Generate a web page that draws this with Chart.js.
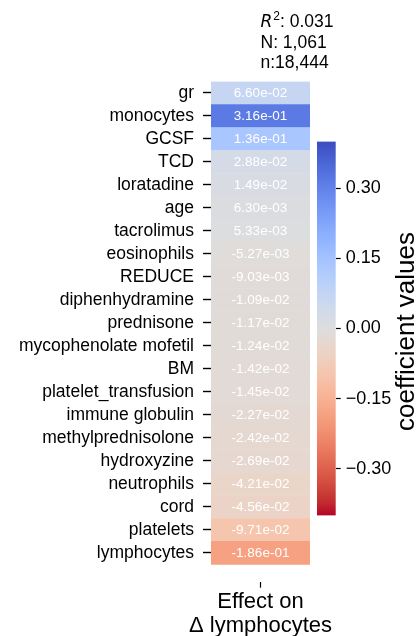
<!DOCTYPE html>
<html>
<head>
<meta charset="utf-8">
<script src="https://cdn.jsdelivr.net/npm/chart.js@4.4.0/dist/chart.umd.min.js"></script>
<style>
  html, body { margin: 0; padding: 0; background: #fff; }
  #wrap { position: relative; width: 419px; height: 636px; overflow: hidden; }
  #wrap canvas { position: absolute; top: 0; }
  #heat { left: 0; }
  #cbar { left: 300px; }
</style>
</head>
<body>
<div id="wrap">
  <canvas id="heat" width="419" height="636"></canvas>
  <canvas id="cbar" width="119" height="636"></canvas>
</div>
<script>
// rows of the heatmap, top to bottom
const rowLabels = ['gr', 'monocytes', 'GCSF', 'TCD', 'loratadine', 'age', 'tacrolimus',
  'eosinophils', 'REDUCE', 'diphenhydramine', 'prednisone', 'mycophenolate mofetil', 'BM',
  'platelet_transfusion', 'immune globulin', 'methylprednisolone', 'hydroxyzine',
  'neutrophils', 'cord', 'platelets', 'lymphocytes'];
const coefValues = [6.60e-02, 3.16e-01, 1.36e-01, 2.88e-02, 1.49e-02, 6.30e-03, 5.33e-03,
  -5.27e-03, -9.03e-03, -1.09e-02, -1.17e-02, -1.24e-02, -1.42e-02,
  -1.45e-02, -2.27e-02, -2.42e-02, -2.69e-02,
  -4.21e-02, -4.56e-02, -9.71e-02, -1.86e-01];
const columnTitle = ['Effect on', 'Δ lymphocytes'];
const statR2 = '0.031';
const statBigN = '1,061';
const statSmallN = '18,444';
const colorbarTicks = [-0.3, -0.15, 0, 0.15, 0.3];
const vmin = -0.4, vmax = 0.4;

const FONT = '"Liberation Sans", Arial, sans-serif';
Chart.defaults.font.family = FONT;
Chart.defaults.color = '#000';

// coolwarm lookup (33 samples)
const coolwarm = [
  [59,76,192],[68,90,204],[77,104,215],[87,117,225],[98,130,234],[108,142,241],
  [119,154,247],[130,165,251],[141,176,254],[152,185,255],[163,194,255],[174,201,253],
  [184,208,249],[194,213,244],[204,217,238],[213,219,230],[221,221,221],[229,216,209],
  [236,211,197],[241,204,185],[245,196,173],[247,187,160],[247,177,148],[247,166,135],
  [244,154,123],[241,141,111],[236,127,99],[229,112,88],[222,96,77],[213,80,66],
  [203,62,56],[192,40,47],[180,4,38]];

function cmap(t) {
  t = Math.min(1, Math.max(0, t)) * (coolwarm.length - 1);
  const i = Math.min(coolwarm.length - 2, Math.floor(t));
  const f = t - i;
  const a = coolwarm[i], b = coolwarm[i + 1];
  const c = a.map((v, k) => Math.round(v + (b[k] - v) * f));
  return `rgb(${c[0]},${c[1]},${c[2]})`;
}
// positive = blue, negative = red
function valueColor(v) {
  return cmap(1 - (v - vmin) / (vmax - vmin));
}

function sci(v) {
  const [m, e] = v.toExponential(2).split('e');
  const sign = e[0] === '-' ? '-' : '+';
  return m + 'e' + sign + e.replace(/[+-]/, '').padStart(2, '0');
}

const cellText = {
  id: 'cellText',
  afterDatasetsDraw(chart) {
    const ctx = chart.ctx;
    const meta = chart.getDatasetMeta(0);
    ctx.save();
    ctx.font = '13.5px ' + FONT;
    ctx.fillStyle = '#fff';
    ctx.textAlign = 'center';
    ctx.textBaseline = 'middle';
    meta.data.forEach((bar, i) => {
      const p = bar.getProps(['x', 'y', 'base'], true);
      ctx.fillText(sci(coefValues[i]), (p.x + p.base) / 2, p.y);
    });
    ctx.restore();
  }
};

// R^2 / N / n block above the column, and the column caption below it
const headerFooter = {
  id: 'headerFooter',
  afterDraw(chart) {
    const ctx = chart.ctx;
    const area = chart.chartArea;
    const xc = (area.left + area.right) / 2;
    ctx.save();
    ctx.fillStyle = '#000';
    ctx.textAlign = 'left';
    ctx.textBaseline = 'alphabetic';
    let y = area.top - 54.5;
    ctx.font = 'italic 17px "DejaVu Sans", sans-serif';
    ctx.fillText('R', xc, y);
    let x = xc + ctx.measureText('R').width + 1;
    ctx.font = '12px ' + FONT;
    ctx.fillText('2', x, y - 7);
    x += ctx.measureText('2').width;
    ctx.font = '17.5px ' + FONT;
    ctx.fillText(': ' + statR2, x, y);
    ctx.fillText('N: ' + statBigN, xc, area.top - 34);
    ctx.fillText('n:' + statSmallN, xc, area.top - 14);

    ctx.textAlign = 'center';
    ctx.font = '22px ' + FONT;
    columnTitle.forEach((line, i) => ctx.fillText(line, xc, area.bottom + 26 + i * 24));
    ctx.restore();
  }
};

new Chart(document.getElementById('heat'), {
  type: 'bar',
  data: {
    datasets: [{
      data: coefValues.map((v, i) => ({ x: [0, 1], y: i })),
      backgroundColor: coefValues.map(valueColor),
      borderWidth: 0,
      barPercentage: 1,
      categoryPercentage: 1
    }]
  },
  options: {
    indexAxis: 'y',
    responsive: false,
    animation: false,
    layout: { padding: { top: 81.5, right: 109, bottom: 0, left: 0 } },
    plugins: { legend: { display: false }, tooltip: { enabled: false } },
    scales: {
      y: {
        type: 'linear',
        reverse: true,
        min: -0.5,
        max: 21.25,
        offset: false,
        afterBuildTicks: s => { s.ticks = rowLabels.map((_, i) => ({ value: i })); },
        afterFit: s => { s.width = 211; },
        ticks: {
          autoSkip: false,
          padding: 9,
          font: { size: 17.5 },
          color: '#000',
          callback: v => rowLabels[v] ?? ''
        },
        grid: { offset: false, drawOnChartArea: false, drawTicks: true, tickLength: 8, tickWidth: 1.4, tickColor: '#000' },
        border: { display: false }
      },
      x: {
        type: 'linear',
        min: 0,
        max: 1,
        offset: false,
        afterBuildTicks: s => { s.ticks = [{ value: 0.5 }]; },
        afterFit: s => { s.height = 54.3; },
        ticks: { callback: () => '' },
        grid: { offset: false, drawOnChartArea: false, drawTicks: true, tickLength: 6, tickWidth: 1.2, tickColor: '#000' },
        border: { display: false }
      }
    }
  },
  plugins: [cellText, headerFooter]
});

const cbarTitle = {
  id: 'cbarTitle',
  afterDraw(chart) {
    const ctx = chart.ctx;
    const area = chart.chartArea;
    ctx.save();
    ctx.translate(area.right + 78, (area.top + area.bottom) / 2 + 3);
    ctx.rotate(-Math.PI / 2);
    ctx.font = '26px ' + FONT;
    ctx.fillStyle = '#000';
    ctx.textAlign = 'center';
    ctx.textBaseline = 'alphabetic';
    ctx.fillText('coefficient values', 0, 0);
    ctx.restore();
  }
};

new Chart(document.getElementById('cbar'), {
  type: 'bar',
  data: {
    labels: ['coef'],
    datasets: [{
      data: [[vmin, vmax]],
      backgroundColor: ctx => {
        const chart = ctx.chart;
        if (!chart.chartArea) return '#ddd';
        const ys = chart.scales.y;
        const g = chart.ctx.createLinearGradient(0, ys.getPixelForValue(vmax), 0, ys.getPixelForValue(vmin));
        coolwarm.forEach((c, i) => g.addColorStop(i / (coolwarm.length - 1), `rgb(${c[0]},${c[1]},${c[2]})`));
        return g;
      },
      borderWidth: 0,
      barPercentage: 1,
      categoryPercentage: 1
    }]
  },
  options: {
    responsive: false,
    animation: false,
    layout: { padding: { top: 141.5, right: 0, bottom: 120.5, left: 17 } },
    plugins: { legend: { display: false }, tooltip: { enabled: false } },
    scales: {
      x: { display: false },
      y: {
        position: 'right',
        min: vmin,
        max: vmax,
        afterBuildTicks: s => { s.ticks = colorbarTicks.map(v => ({ value: v })); },
        afterFit: s => { s.width = 119 - 17 - 18.7; },
        ticks: {
          padding: 5,
          font: { size: 18 },
          color: '#000',
          callback: v => (v < 0 ? '\u2212' : '') + Math.abs(v).toFixed(2)
        },
        grid: { drawOnChartArea: false, drawTicks: true, tickLength: 5, tickWidth: 1.2, tickColor: '#000' },
        border: { display: false }
      }
    }
  },
  plugins: [cbarTitle]
});
</script>
</body>
</html>
